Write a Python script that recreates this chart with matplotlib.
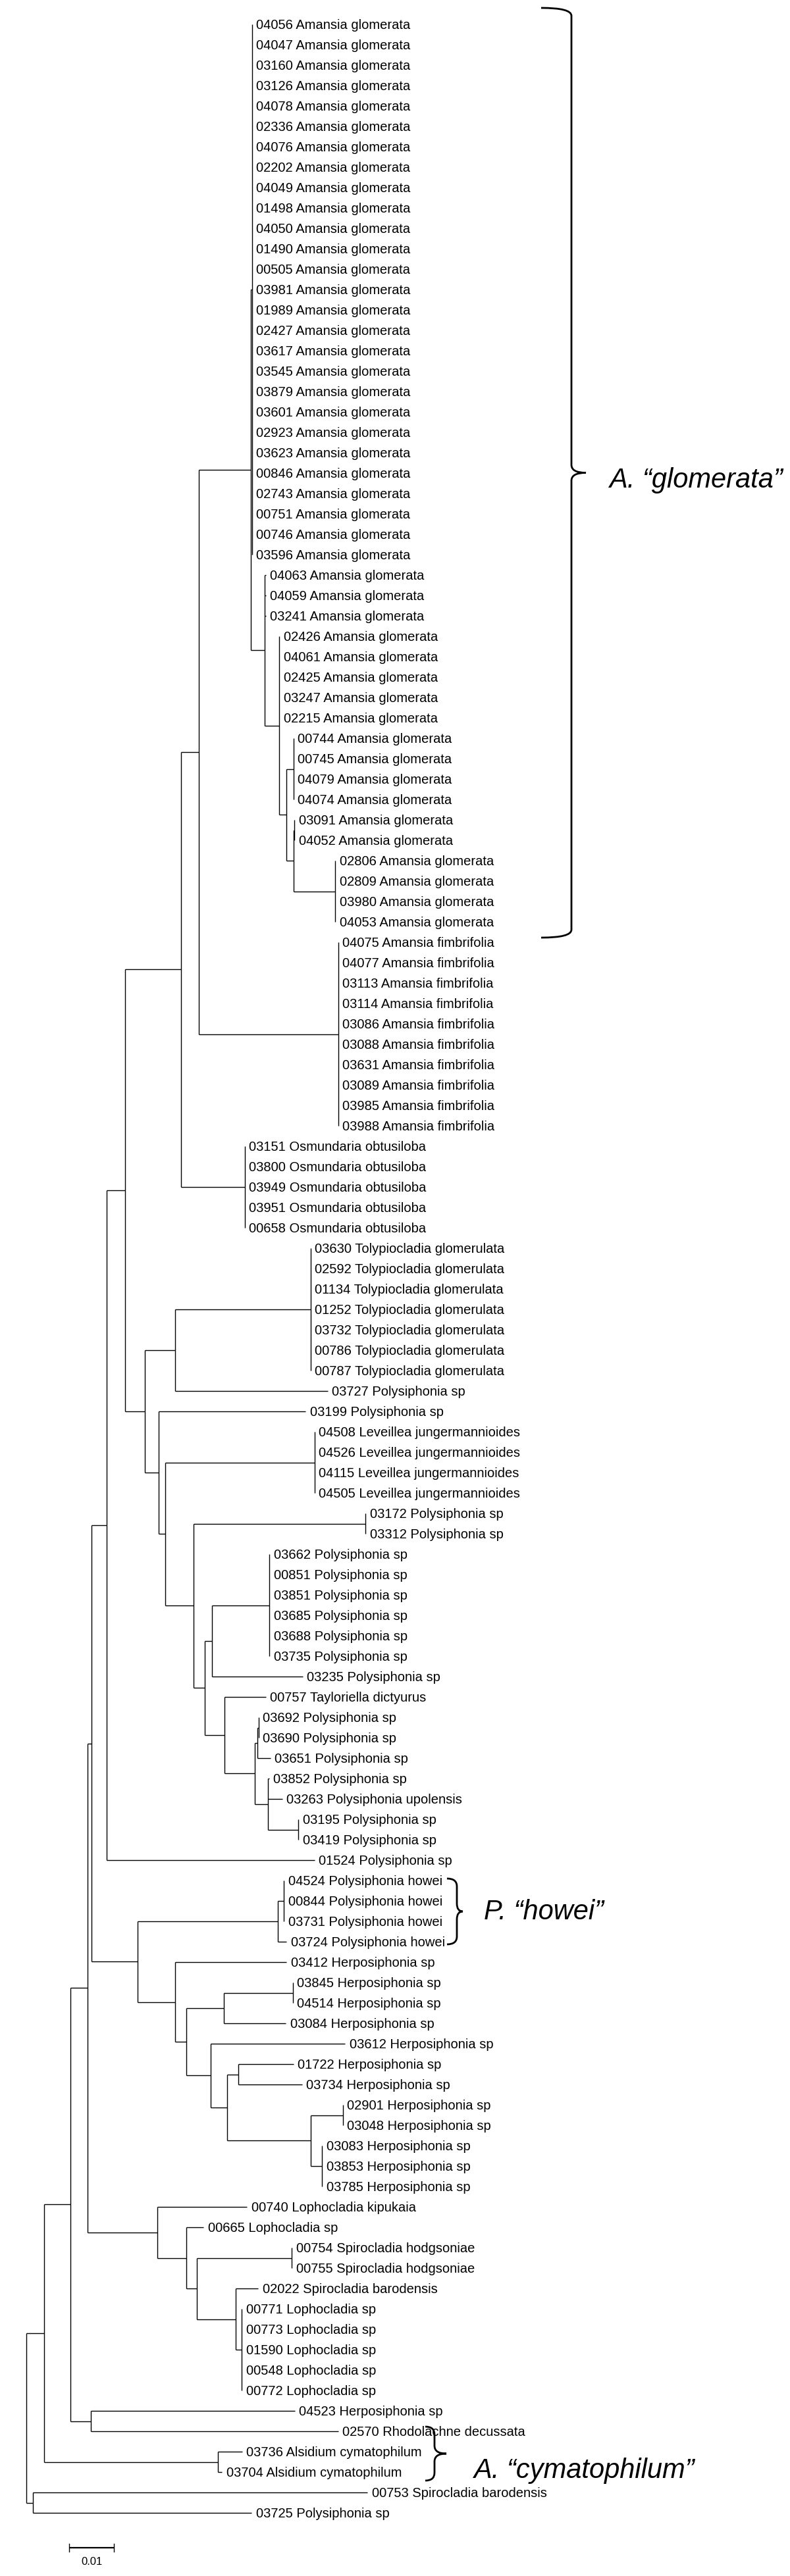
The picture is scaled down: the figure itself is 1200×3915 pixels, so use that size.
import matplotlib
matplotlib.use("agg")
import matplotlib.pyplot as plt
from matplotlib.path import Path
from matplotlib.patches import PathPatch

# leaf order, top to bottom
codes = [
    "04056", "04047", "03160", "03126", "04078", "02336", "04076", "02202", "04049", "01498",
    "04050", "01490", "00505", "03981", "01989", "02427", "03617", "03545", "03879", "03601",
    "02923", "03623", "00846", "02743", "00751", "00746", "03596", "04063", "04059", "03241",
    "02426", "04061", "02425", "03247", "02215", "00744", "00745", "04079", "04074", "03091",
    "04052", "02806", "02809", "03980", "04053",
    "04075", "04077", "03113", "03114", "03086", "03088", "03631", "03089", "03985", "03988",
    "03151", "03800", "03949", "03951", "00658",
    "03630", "02592", "01134", "01252", "03732", "00786", "00787", "03727", "03199",
    "04508", "04526", "04115", "04505", "03172", "03312",
    "03662", "00851", "03851", "03685", "03688", "03735", "03235", "00757",
    "03692", "03690", "03651", "03852", "03263", "03195", "03419", "01524",
    "04524", "00844", "03731", "03724",
    "03412", "03845", "04514", "03084", "03612", "01722", "03734", "02901", "03048",
    "03083", "03853", "03785",
    "00740", "00665", "00754", "00755", "02022", "00771", "00773", "01590", "00548", "00772",
    "04523", "02570", "03736", "03704", "00753", "03725",
]
species = (
    ["Amansia glomerata"] * 45
    + ["Amansia fimbrifolia"] * 10
    + ["Osmundaria obtusiloba"] * 5
    + ["Tolypiocladia glomerulata"] * 7
    + ["Polysiphonia sp"] * 2
    + ["Leveillea jungermannioides"] * 4
    + ["Polysiphonia sp"] * 9
    + ["Tayloriella dictyurus"]
    + ["Polysiphonia sp"] * 4
    + ["Polysiphonia upolensis"]
    + ["Polysiphonia sp"] * 3
    + ["Polysiphonia howei"] * 4
    + ["Herposiphonia sp"] * 12
    + ["Lophocladia kipukaia", "Lophocladia sp", "Spirocladia hodgsoniae",
       "Spirocladia hodgsoniae", "Spirocladia barodensis"]
    + ["Lophocladia sp"] * 5
    + ["Herposiphonia sp", "Rhodolachne decussata", "Alsidium cymatophilum",
       "Alsidium cymatophilum", "Spirocladia barodensis", "Polysiphonia sp"]
)

# clades (newick, branch lengths in substitutions/site)
glomerata = ("((04056,04047,03160,03126,04078,02336,04076,02202,04049,01498,04050,01490,00505,"
             "03981,01989,02427,03617,03545,03879,03601,02923,03623,00846,02743,00751,00746,03596)"
             ":0.0002,(04063:0.0002,04059:0.0002,03241:0.0002,(02426,04061,02425,03247,02215,"
             "((00744,00745,04079,04074):0.0016,((03091,04052):0.0002,(02806,02809,03980,04053)"
             ":0.0093):0.0016):0.0016):0.0032):0.0031)")
fimbrifolia = "(04075,04077,03113,03114,03086,03088,03631,03089,03985,03988)"
osmundaria = "(03151,03800,03949,03951,00658)"
tolypiocladia = "(03630,02592,01134,01252,03732,00786,00787)"
leveillea = "(04508,04526,04115,04505)"
polysiphonia = ("((03172,03312):0.0385,(((03662,00851,03851,03685,03688,03735):0.0128,"
                "03235:0.0202):0.0016,(00757:0.0093,(((03692,03690):0.0003,03651:0.0029):0.0005,"
                "(03852:0.0002,03263:0.0032,(03195,03419):0.0068):0.0029):0.0069):0.0043):0.0026)")
herposiphonia = ("(((04524,00844,03731):0.0013,03724:0.0019):0.0314,(03412:0.0249,"
                 "(((03845,04514):0.0154,03084:0.0139):0.0083,(03612:0.0300,((01722:0.0123,"
                 "03734:0.0142):0.0026,((02901,03048):0.0072,(03083,03853,03785):0.0026)"
                 ":0.0187):0.0036):0.0054):0.0026):0.0084)")
lophocladia = ("(00740:0.0200,(00665:0.0039,((00754,00755):0.0212,(02022:0.0050,"
               "(00771,00773,01590,00548,00772):0.0013):0.0087):0.0024):0.0064)")
backbone = ("((((((((({glom}:0.0116,{fimb}:0.0311):0.0040,{osm}:0.0142):0.0126,"
            "(({toly}:0.0303,03727:0.0341):0.0068,(03199:0.0328,({lev}:0.0334,{poly}:0.0063)"
            ":0.0014):0.0032):0.0044):0.0041,01524:0.0465):0.0034,{herpo}:0.0103):0.0008,"
            "{lopho}:0.0156):0.0039,(04523:0.0456,02570:0.0553):0.0046):0.0058,"
            "(03736:0.0054,03704:0.0009):0.0388):0.0040,(00753:0.0748,03725:0.0489):0.0014);")

group_names = ["A. \u201cglomerata\u201d", "P. \u201chowei\u201d", "A. \u201ccymatophilum\u201d"]
group_first = ["04056", "04524", "02570"]
group_last = ["04053", "03724", "03704"]

scale_value = 0.01

# layout (pixels)
PX_PER_UNIT = 6800.0
X0 = 40.0
ROW_H = 31.0
Y0 = 6.0
LW = 1.0

tree_str = backbone.format(glom=glomerata, fimb=fimbrifolia, osm=osmundaria,
                           toly=tolypiocladia, lev=leveillea, poly=polysiphonia,
                           herpo=herposiphonia, lopho=lophocladia)


def parse(s):
    pos = 0

    def node():
        nonlocal pos
        kids = []
        if s[pos] == "(":
            pos += 1
            while True:
                kids.append(node())
                ch = s[pos]
                pos += 1
                if ch == ")":
                    break
        start = pos
        while s[pos] not in ",();":
            pos += 1
        name, _, bl = s[start:pos].partition(":")
        return {"name": name, "bl": float(bl) if bl else 0.0, "kids": kids}

    return node()


root = parse(tree_str)
leaves = []


def layout(n, depth):
    n["x"] = X0 + depth * PX_PER_UNIT
    if not n["kids"]:
        leaves.append(n)
        n["y"] = Y0 + len(leaves) * ROW_H
        return
    for k in n["kids"]:
        layout(k, depth + k["bl"])
    n["y"] = (n["kids"][0]["y"] + n["kids"][-1]["y"]) / 2


layout(root, 0.0)
assert [l["name"] for l in leaves] == codes
label_of = dict(zip(codes, species))
row_y = {l["name"]: l["y"] for l in leaves}

fig = plt.figure(figsize=(12, 39.15), dpi=100)
ax = fig.add_axes([0, 0, 1, 1])
ax.set_xlim(0, 1200)
ax.set_ylim(3915, 0)
ax.axis("off")


def draw(n):
    if not n["kids"]:
        ax.text(n["x"] + 6.5, n["y"] + 7, n["name"] + " " + label_of[n["name"]],
                fontsize=14.5, family="Liberation Sans", va="baseline", ha="left")
        return
    ax.plot([n["x"], n["x"]], [n["kids"][0]["y"], n["kids"][-1]["y"]],
            color="black", lw=LW, solid_capstyle="butt")
    for k in n["kids"]:
        if k["x"] > n["x"]:
            ax.plot([n["x"], k["x"]], [k["y"], k["y"]], color="black", lw=LW,
                    solid_capstyle="butt")
        draw(k)


draw(root)


def brace(xa, xb, xc, ya, yb, ym):
    r = min(12.0, (yb - ya) / 4)
    verts = [(xa, ya), (xb, ya), (xb, ya + r), (xb, ym - r), (xb, ym), (xc, ym),
             (xb, ym), (xb, ym + r), (xb, yb - r), (xb, yb), (xa, yb)]
    cds = [Path.MOVETO, Path.CURVE3, Path.CURVE3, Path.LINETO, Path.CURVE3, Path.CURVE3,
           Path.CURVE3, Path.CURVE3, Path.LINETO, Path.CURVE3, Path.CURVE3]
    ax.add_patch(PathPatch(Path(verts, cds), fill=False, lw=2.0, ec="black"))


# brace geometry per group: hook x, spine x, tip x, pad top, pad bottom, label x, label dy
brace_x = [(822, 868, 890), (679, 694, 703), (646, 660, 678)]
brace_pad = [(25, 24), (3, 4), (7, 13)]
text_x = [925, 735, 719]
text_dy = [22, 12, 37]

for name, a, b, bx, pad, tx, dy in zip(group_names, group_first, group_last,
                                        brace_x, brace_pad, text_x, text_dy):
    ya = row_y[a] - pad[0]
    yb = row_y[b] + pad[1]
    ym = (ya + yb) / 2
    brace(bx[0], bx[1], bx[2], ya, yb, ym)
    ax.text(tx, ym + dy, name, fontsize=30, style="italic", family="Liberation Sans",
            va="baseline", ha="left")

# scale bar
sb_x = 105.0
sb_y = 3872.0
sb_len = scale_value * PX_PER_UNIT
ax.plot([sb_x, sb_x + sb_len], [sb_y, sb_y], color="black", lw=1.6, solid_capstyle="butt")
for xx in (sb_x, sb_x + sb_len):
    ax.plot([xx, xx], [sb_y - 6, sb_y + 6], color="black", lw=1.0)
ax.text(sb_x + sb_len / 2, sb_y + 26, f"{scale_value:g}", fontsize=12,
        family="Liberation Sans", ha="center", va="baseline")

fig.savefig("out.png", dpi=100)
